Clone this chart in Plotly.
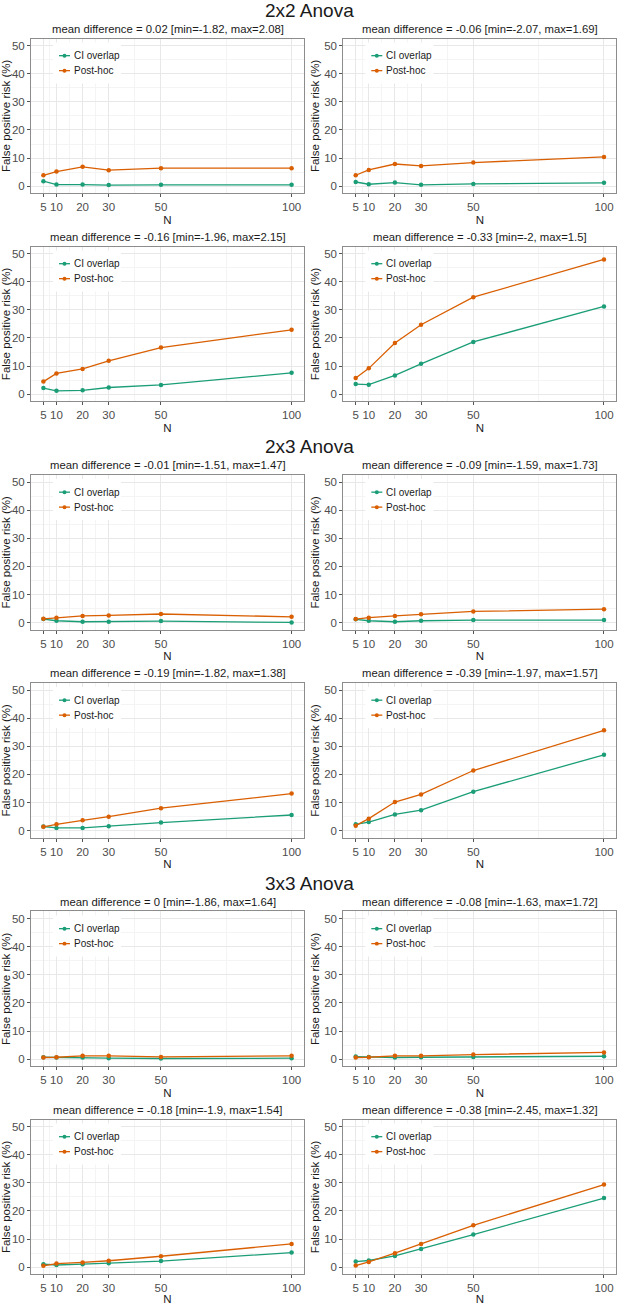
import plotly.graph_objects as go

W, H = 618, 1305

n_sizes = [5, 10, 20, 30, 50, 100]
group_titles = ['2x2 Anova', '2x3 Anova', '3x3 Anova']
series_names = ['CI overlap', 'Post-hoc']
series_colors = ['#1b9e77', '#d95f02']

# panels in each group: top-left, top-right, bottom-left, bottom-right
titles_2x2 = ['mean difference = 0.02 [min=-1.82, max=2.08]',
              'mean difference = -0.06 [min=-2.07, max=1.69]',
              'mean difference = -0.16 [min=-1.96, max=2.15]',
              'mean difference = -0.33 [min=-2, max=1.5]']
ci_2x2 = [[1.8, 0.6, 0.6, 0.4, 0.5, 0.5],
          [1.5, 0.7, 1.3, 0.5, 0.8, 1.2],
          [2.2, 1.2, 1.4, 2.4, 3.3, 7.6],
          [3.6, 3.4, 6.7, 10.8, 18.6, 31.2]]
posthoc_2x2 = [[3.9, 5.2, 6.9, 5.7, 6.4, 6.4],
               [3.9, 5.8, 7.9, 7.2, 8.4, 10.4],
               [4.5, 7.4, 9.0, 11.9, 16.6, 22.9],
               [5.8, 9.2, 18.2, 24.7, 34.5, 47.9]]

titles_2x3 = ['mean difference = -0.01 [min=-1.51, max=1.47]',
              'mean difference = -0.09 [min=-1.59, max=1.73]',
              'mean difference = -0.19 [min=-1.82, max=1.38]',
              'mean difference = -0.39 [min=-1.97, max=1.57]']
ci_2x3 = [[1.3, 0.7, 0.35, 0.35, 0.6, 0.1],
          [1.2, 0.7, 0.35, 0.7, 0.95, 0.95],
          [1.5, 1.0, 1.0, 1.6, 2.9, 5.6],
          [2.3, 3.1, 5.8, 7.3, 13.9, 27.0]]
posthoc_2x3 = [[1.4, 1.8, 2.4, 2.6, 3.1, 2.1],
               [1.3, 1.8, 2.4, 3.0, 4.0, 4.8],
               [1.4, 2.3, 3.7, 5.0, 8.0, 13.2],
               [1.8, 4.3, 10.2, 12.9, 21.4, 35.7]]

titles_3x3 = ['mean difference = 0 [min=-1.86, max=1.64]',
              'mean difference = -0.08 [min=-1.63, max=1.72]',
              'mean difference = -0.18 [min=-1.9, max=1.54]',
              'mean difference = -0.38 [min=-2.45, max=1.32]']
ci_3x3 = [[0.7, 0.6, 0.6, 0.35, 0.25, 0.35],
          [0.95, 0.8, 0.6, 0.7, 0.8, 1.05],
          [1.1, 0.8, 1.1, 1.4, 2.2, 5.2],
          [2.0, 2.4, 4.0, 6.5, 11.6, 24.6]]
posthoc_3x3 = [[0.6, 0.7, 1.2, 1.2, 0.8, 1.2],
               [0.6, 0.7, 1.2, 1.2, 1.65, 2.4],
               [0.5, 1.3, 1.7, 2.3, 3.9, 8.3],
               [0.6, 1.9, 5.0, 8.3, 14.9, 29.4]]

x_ticks = [5, 10, 20, 30, 50, 100]
x_minor = [7.5, 15, 25, 40, 75]
y_ticks = [0, 10, 20, 30, 40, 50]

groups = [(titles_2x2, ci_2x2, posthoc_2x2),
          (titles_2x3, ci_2x3, posthoc_2x3),
          (titles_3x3, ci_3x3, posthoc_3x3)]

# panel geometry in pixels
col_px = [(31.0, 304.0), (343.3, 616.4)]
row_top = [38.6, 247.1, 476.1, 684.6, 913.6, 1122.1]
panel_h = 155.1

FONT = 'Liberation Sans, Arial, sans-serif'


def px(x):
    return x / W


def py(y):
    return 1 - y / H


fig = go.Figure()
shapes = []
annotations = []

for g, (titles, ci, ph) in enumerate(groups):
    annotations.append(dict(text=group_titles[g], x=0.5, y=py(row_top[g * 2] - 28.5),
                            xref='paper', yref='paper', showarrow=False,
                            xanchor='center', yanchor='middle',
                            font=dict(size=19, color='#1a1a1a', family=FONT)))
    for p in range(4):
        idx = g * 4 + p + 1
        row = g * 2 + p // 2
        left, right = col_px[p % 2]
        top = row_top[row]
        bottom = top + panel_h
        sfx = '' if idx == 1 else str(idx)

        for vals, name, color in zip([ci[p], ph[p]], series_names, series_colors):
            fig.add_trace(go.Scatter(x=n_sizes, y=vals, mode='lines+markers', name=name,
                                     line=dict(color=color, width=1.3),
                                     marker=dict(color=color, size=4.5),
                                     showlegend=False, xaxis='x' + sfx, yaxis='y' + sfx))

        fig.layout['xaxis' + sfx] = dict(
            domain=[px(left), px(right)], anchor='y' + sfx, range=[0.25, 104.75],
            tickmode='array', tickvals=x_ticks, ticks='outside', ticklen=3,
            tickcolor='#555555', showgrid=True, gridcolor='#e8e8e8', gridwidth=1,
            minor=dict(tickmode='array', tickvals=x_minor, showgrid=True,
                       gridcolor='#f4f4f4', gridwidth=1, ticks=''),
            showline=True, linecolor='#8c8c8c', linewidth=1, mirror=True, zeroline=False,
            tickfont=dict(size=11.5, color='#4d4d4d', family=FONT),
            title=dict(text='N', standoff=3, font=dict(size=11.5, color='#1a1a1a', family=FONT)))
        fig.layout['yaxis' + sfx] = dict(
            domain=[py(bottom), py(top)], anchor='x' + sfx, range=[-2.5, 52.5],
            tickmode='array', tickvals=y_ticks, ticks='outside', ticklen=3,
            tickcolor='#555555', showgrid=True, gridcolor='#e8e8e8', gridwidth=1,
            minor=dict(tickmode='array', tickvals=[5, 15, 25, 35, 45], showgrid=True,
                       gridcolor='#f4f4f4', gridwidth=1, ticks=''),
            showline=True, linecolor='#8c8c8c', linewidth=1, mirror=True, zeroline=False,
            tickfont=dict(size=11.5, color='#4d4d4d', family=FONT),
            title=dict(text='False positive risk (%)', standoff=2,
                       font=dict(size=11.5, color='#1a1a1a', family=FONT)))

        annotations.append(dict(text=titles[p], x=px((left + right) / 2), y=py(top - 10),
                                xref='paper', yref='paper', showarrow=False,
                                xanchor='center', yanchor='middle',
                                font=dict(size=11.3, color='#1a1a1a', family=FONT)))

        # legend box inside the panel
        shapes.append(dict(type='rect', xref='paper', yref='paper',
                           x0=px(left + 22), x1=px(left + 90), y0=py(top + 45), y1=py(top + 4),
                           fillcolor='white', line=dict(width=0), layer='above'))
        for k, (name, color) in enumerate(zip(series_names, series_colors)):
            yk = top + 17.2 + 15 * k
            shapes.append(dict(type='line', xref='paper', yref='paper',
                               x0=px(left + 28), x1=px(left + 39), y0=py(yk), y1=py(yk),
                               line=dict(color=color, width=1.3), layer='above'))
            shapes.append(dict(type='circle', xref='paper', yref='paper',
                               x0=px(left + 31.5), x1=px(left + 35.5),
                               y0=py(yk + 2), y1=py(yk - 2),
                               fillcolor=color, line=dict(width=0), layer='above'))
            annotations.append(dict(text=name, x=px(left + 41), y=py(yk),
                                    xref='paper', yref='paper', showarrow=False,
                                    xanchor='left', yanchor='middle',
                                    font=dict(size=10, color='#1a1a1a', family=FONT)))

fig.update_layout(width=W, height=H, margin=dict(l=0, r=0, t=0, b=0),
                  paper_bgcolor='white', plot_bgcolor='white',
                  shapes=shapes, annotations=annotations, showlegend=False,
                  font=dict(family=FONT))

# the page's default body margin would shift and clip the figure
fig.write_html('out.html', config={'displayModeBar': False},
               post_script="document.body.style.margin='0';"
                           "document.body.style.overflow='hidden';")
